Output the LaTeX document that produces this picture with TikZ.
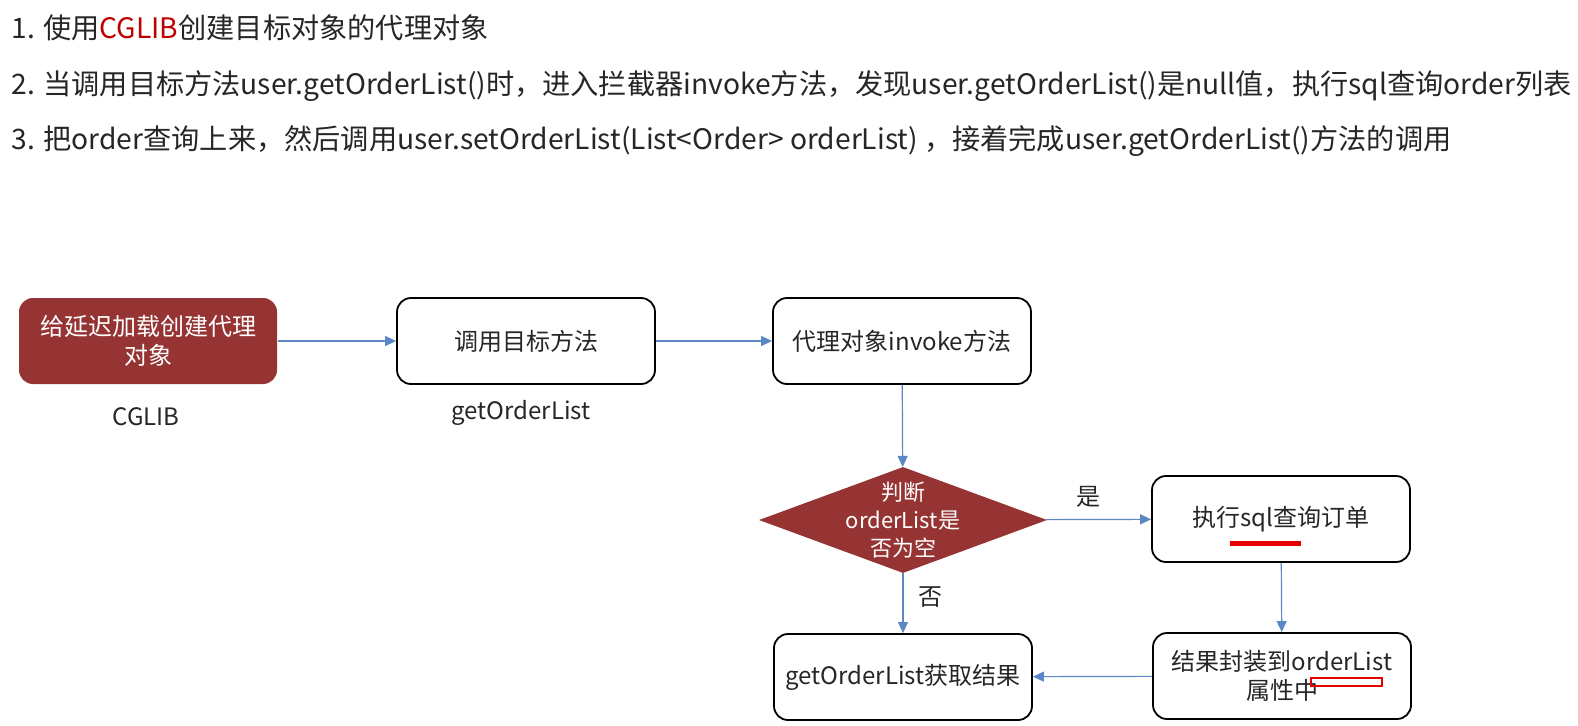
\documentclass[tikz,border=0pt]{standalone}
\usepackage{fontspec}
\setmainfont{Noto Sans CJK SC}
\usepackage{xcolor}
\usepackage{tikz}
\usetikzlibrary{shapes.geometric}
\usetikzlibrary{arrows.meta}
\usetikzlibrary{positioning}
\definecolor{lazyred}{HTML}{963434}
\definecolor{flowblue}{HTML}{5B87C5}
\definecolor{cglibred}{HTML}{C00000}
\definecolor{ink}{HTML}{262626}
\definecolor{markred}{HTML}{E60000}

\begin{document}
\begin{tikzpicture}[x=1pt, y=-1pt,
  every node/.style={font=\fontsize{24}{29}\selectfont, text=ink},
  box/.style={rectangle, draw=black, line width=1.8pt, rounded corners=14pt, minimum width=258, minimum height=86, align=center},
  redbox/.style={box, draw=none, fill=lazyred, text=white},
  line/.style={font=\fontsize{28.2}{33}\selectfont, anchor=west},
  arr/.style={-{Triangle[length=11pt,width=10pt]}, draw=flowblue, line width=1.2pt}
]
\useasboundingbox (0,0) rectangle (1578,725);

% Steps
\node[line] (s1) at (8, 28)  {1. 使用\textcolor{cglibred}{CGLIB}创建目标对象的代理对象};
\node[line] (s2) at (8, 86)  {2. 当调用目标方法user.getOrderList()时，进入拦截器invoke方法，发现user.getOrderList()是null值，执行sql查询order列表};
\node[line] (s3) at (8, 141) {3. 把order查询上来，然后调用user.setOrderList(List<Order> orderList) ，接着完成user.getOrderList()方法的调用};

% Flow
\node[redbox] (lazy)   at (148, 341) {给延迟加载创建代理\\对象};
\node[box]    (call)   at (526, 341) {调用目标方法};
\node[box]    (invoke) at (902, 341) {代理对象invoke方法};
\node[diamond, fill=lazyred, minimum width=288, minimum height=106, inner sep=0pt,
      label={[align=center, text=white, font=\fontsize{22}{28}\selectfont]center:判断\\orderList是\\否为空}] (chk) at (903, 520) {};
\node[box]    (sql)    at (1281, 519) {执行sql查询订单};
\node[box]    (fill)   at (1282, 676) {结果封装到orderList\\属性中};
\node[box]    (get)    at (903, 677) {getOrderList获取结果};

\node (cglib) at (146, 417) {CGLIB};
\node (getol) at (521, 413) {getOrderList};

% Arrows
\draw[arr] (lazy) -- (call);
\draw[arr] (call) -- (invoke);
\draw[arr] (invoke) -- (chk);
\draw[arr] (chk) -- node[pos=0.4, above=8pt] {是} (sql);
\draw[arr] (sql) -- (fill);
\draw[arr] (fill) -- (get);
\draw[arr] (chk) -- node[pos=0.4, right=12pt] {否} (get);

% Marks
\fill[markred] (1230, 541) rectangle (1301, 546);
\draw[markred, line width=2.4pt] (1311, 678) rectangle (1382, 686);
\end{tikzpicture}
\end{document}
